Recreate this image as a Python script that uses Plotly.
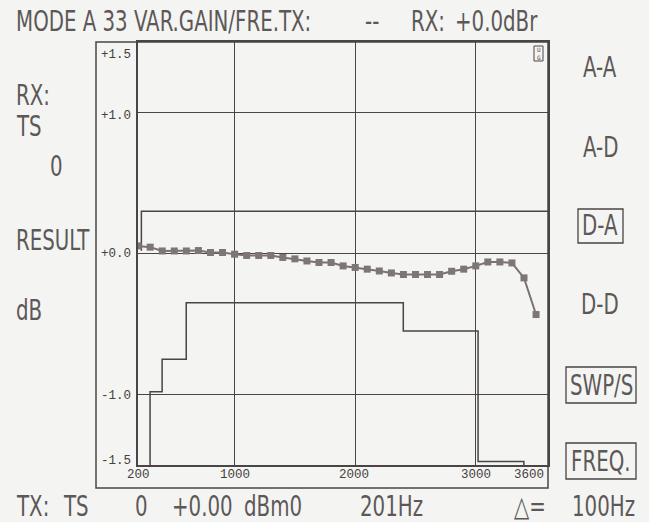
import plotly.graph_objects as go

# ---------------- data ----------------
freq_hz = [201, 301, 401, 501, 601, 701, 801, 901, 1001, 1101, 1201, 1301,
           1401, 1501, 1601, 1701, 1801, 1901, 2001, 2101, 2201, 2301, 2401,
           2501, 2601, 2701, 2801, 2901, 3001, 3101, 3201, 3301, 3401, 3501]
gain_db = [0.054, 0.045, 0.018, 0.018, 0.018, 0.021, 0.007, 0.007, -0.005,
           -0.014, -0.014, -0.014, -0.028, -0.038, -0.053, -0.064, -0.064,
           -0.088, -0.099, -0.111, -0.124, -0.138, -0.149, -0.149, -0.149,
           -0.149, -0.126, -0.111, -0.088, -0.060, -0.060, -0.067, -0.173,
           -0.433]

upper_mask_hz = [228, 228, 3600]
upper_mask_db = [0.02, 0.30, 0.30]

lower_mask_hz = [300, 300, 400, 400, 600, 600, 2400, 2400, 3020, 3020, 3400, 3400]
lower_mask_db = [-1.5, -0.98, -0.98, -0.75, -0.75, -0.35, -0.35, -0.55, -0.55,
                 -1.475, -1.475, -1.5]

x_tick_vals = [200, 1000, 2000, 3000, 3600]
x_tick_text = ["200", "1000", "2000", "3000", "3600"]
y_tick_vals = [1.5, 1.0, 0.0, -1.0, -1.5]
y_tick_text = ["+1.5", "+1.0", "+0.0", "-1.0", "-1.5"]

# ---------------- layout geometry (page pixels) ----------------
W, H = 649, 522
L, R, T, B = 138, 101, 42, 57
PW, PH = W - L - R, H - T - B

def px(x):
    return (x - L) / PW

def py(y):
    return (H - B - y) / PH

INK = "#4a4444"
TXT = "#5c5858"
BG = "#f4f4f2"
BIG = dict(family="DejaVu Sans Condensed, Liberation Sans Narrow, DejaVu Sans", size=22, color=TXT)
SMALL = dict(family="Liberation Mono, DejaVu Sans Mono", size=12.5, color="#464040")

fig = go.Figure()
fig.add_trace(go.Scatter(x=upper_mask_hz, y=upper_mask_db, mode="lines",
                         line=dict(color=INK, width=1.5), hoverinfo="skip"))
fig.add_trace(go.Scatter(x=lower_mask_hz, y=lower_mask_db, mode="lines",
                         line=dict(color=INK, width=1.5), hoverinfo="skip"))
fig.add_trace(go.Scatter(x=freq_hz, y=gain_db, mode="lines+markers",
                         line=dict(color="#7a7272", width=2),
                         marker=dict(symbol="square", size=7, color="#7e7676")))

ann = []
# y tick labels
y_label_px = {1.5: 55, 1.0: 116, 0.0: 254, -1.0: 396, -1.5: 461}
for v, t in zip(y_tick_vals, y_tick_text):
    ann.append(dict(x=px(99), y=py(y_label_px[v]), text=t, xanchor="left",
                    yanchor="middle", font=SMALL))
# x tick labels
x_label_px = {200: 138, 1000: 235, 2000: 354, 3000: 476, 3600: 529}
for v, t in zip(x_tick_vals, x_tick_text):
    ann.append(dict(x=px(x_label_px[v]), y=py(475), text=t, xanchor="center",
                    yanchor="middle", font=SMALL))

def big(text, x, y, anchor="center"):
    ann.append(dict(x=px(x), y=py(y), text=text, xanchor=anchor,
                    yanchor="middle", font=BIG))

# title line
big("MODE A 33 VAR.GAIN/FRE.TX:", 14, 21, "left")
big("--", 372, 21)
big("RX:", 428, 21)
big("+0.0dBr", 496, 21)
# left column
big("RX:", 14, 96, "left")
big("TS", 14, 127, "left")
big("0", 56, 166)
big("RESULT", 14, 240, "left")
big("dB", 14, 310, "left")
# right column
big("A-A", 600, 68)
big("A-D", 600, 147)
big("D-A", 600, 226)
big("D-D", 600, 304)
big("SWP/S", 601, 385)
big("FREQ.", 601, 461)
# bottom line
big("TX:", 32, 506)
big("TS", 76, 506)
big("0", 141, 506)
big("+0.00", 202, 506)
big("dBm0", 273, 506)
big("201Hz", 391, 506)
big("\u25b3=", 530, 506)
big("100Hz", 603, 506)
# small icon label
ann.append(dict(x=px(538.5), y=py(53), text="U<br>G", xanchor="center",
                yanchor="middle", showarrow=False,
                font=dict(family="DejaVu Sans Mono", size=6, color=INK)))

for a in ann:
    a["xref"] = "paper"
    a["yref"] = "paper"
    a["showarrow"] = False

shapes = [
    # outer frame
    dict(type="rect", xref="paper", yref="paper", x0=px(96), x1=1, y0=py(488), y1=1,
         line=dict(color=INK, width=1.5)),
    # button boxes
    dict(type="rect", xref="paper", yref="paper", x0=px(578), x1=px(623),
         y0=py(243), y1=py(209), line=dict(color=INK, width=1.3)),
    dict(type="rect", xref="paper", yref="paper", x0=px(566), x1=px(636),
         y0=py(403), y1=py(367), line=dict(color=INK, width=1.3)),
    dict(type="rect", xref="paper", yref="paper", x0=px(566), x1=px(636),
         y0=py(479), y1=py(443), line=dict(color=INK, width=1.3)),
    # icon box
    dict(type="rect", xref="paper", yref="paper", x0=px(534), x1=px(543),
         y0=py(61), y1=py(46), line=dict(color=INK, width=1)),
]

fig.update_layout(
    width=W, height=H, autosize=False,
    margin=dict(l=L, r=R, t=T, b=B, pad=0),
    paper_bgcolor=BG, plot_bgcolor=BG,
    showlegend=False,
    annotations=ann, shapes=shapes,
    xaxis=dict(range=[200, 3600], tickvals=[1000, 2000, 3000], showticklabels=False,
               ticks="", showgrid=True, gridcolor=INK, gridwidth=1.3,
               showline=True, linecolor=INK, linewidth=1.5, mirror=True,
               zeroline=False, fixedrange=True),
    yaxis=dict(range=[-1.5, 1.5], tickvals=[-1, 0, 1], showticklabels=False,
               ticks="", showgrid=True, gridcolor=INK, gridwidth=1.3,
               showline=True, linecolor=INK, linewidth=1.5, mirror=True,
               zeroline=False, fixedrange=True),
)

post = """
document.body.style.margin='0px';
document.body.style.background='%s';
(function(){
  var gd = document.getElementById('{plot_id}');
  function stretch(){
    var els = gd.querySelectorAll('text.annotation-text');
    els.forEach(function(el){
      if (el.style.fontSize !== '22px') return;
      var bb = el.getBBox();
      var cy = bb.y + bb.height / 2;
      el.setAttribute('transform',
        'translate(0,' + cy + ') scale(1,1.3) translate(0,' + (-cy) + ')');
    });
  }
  stretch();
  if (gd && gd.on) gd.on('plotly_afterplot', stretch);
})();
""" % BG

fig.write_html("out.html", config={"displayModeBar": False}, post_script=post)
